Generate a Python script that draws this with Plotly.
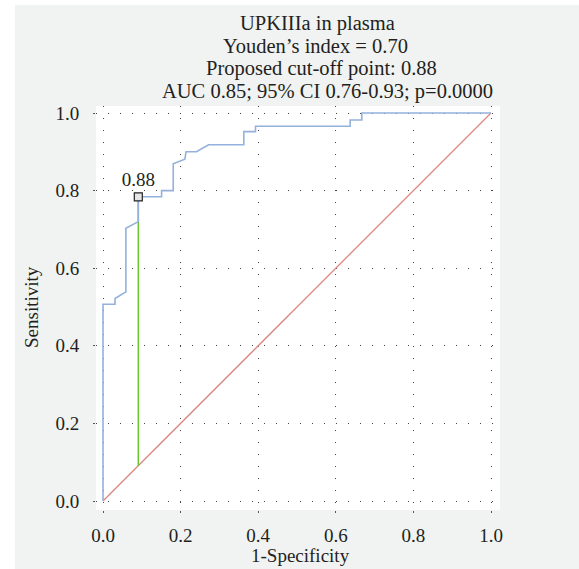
import plotly.graph_objects as go

# ---- data ----
fpr = [0.0, 0.0, 0.031, 0.031, 0.059, 0.059, 0.091, 0.091, 0.151, 0.151, 0.181, 0.181,
       0.211, 0.214, 0.241, 0.272, 0.363, 0.363, 0.393, 0.393, 0.637, 0.637, 0.667, 0.667, 1.0]
tpr = [0.0, 0.507, 0.507, 0.522, 0.539, 0.703, 0.720, 0.784, 0.784, 0.800, 0.800, 0.869,
       0.881, 0.900, 0.900, 0.918, 0.918, 0.952, 0.952, 0.966, 0.966, 0.982, 0.982, 1.0, 1.0]
chance_x = [0.0, 1.0]
chance_y = [0.0, 1.0]
cutoff_x = 0.091
cutoff_y = 0.784
cutoff_label = "0.88"
title_lines = [
    "UPKIIIa in plasma",
    "Youden\u2019s index = 0.70",
    "Proposed cut-off point: 0.88",
    "AUC 0.85; 95% CI 0.76-0.93; p=0.0000",
]
tick_vals = [0.0, 0.2, 0.4, 0.6, 0.8, 1.0]
tick_text = ["0.0", "0.2", "0.4", "0.6", "0.8", "1.0"]
x_title = "1-Specificity"
y_title = "Sensitivity"

W, H = 579, 569
L, R, T, B = 96, 79, 106, 59
PW, PH = W - L - R, H - T - B
FONT = "Liberation Serif"
FS = 19
FS_TITLE = 20.5
TXT = "#231f20"
BG = "#f1f3f2"
title_centers = [317, 315, 321, 327]


def px_x(p):
    return (p - L) / PW


def px_y(p):
    return (H - B - p) / PH


fig = go.Figure()
fig.add_trace(go.Scatter(x=chance_x, y=chance_y, mode="lines",
                         line=dict(color="#e0857f", width=1.3), hoverinfo="skip"))
fig.add_trace(go.Scatter(x=[cutoff_x, cutoff_x], y=[cutoff_x, cutoff_y], mode="lines",
                         line=dict(color="#66c72e", width=1.5), hoverinfo="skip"))
fig.add_trace(go.Scatter(x=fpr, y=tpr, mode="lines",
                         line=dict(color="#93b1db", width=1.6)))
fig.add_trace(go.Scatter(x=[cutoff_x], y=[cutoff_y], mode="markers+text",
                         marker=dict(symbol="square", size=8, color="#e6e6e6",
                                     line=dict(color="#222", width=1.2)),
                         text=[cutoff_label], textposition="top center",
                         textfont=dict(family=FONT, size=FS, color=TXT)))

axis_common = dict(
    tickvals=tick_vals, ticktext=tick_text,
    showgrid=True, gridcolor="#444", gridwidth=1, griddash="1px,11px",
    zeroline=False, showline=False,
    ticks="outside", ticklen=2, tickcolor="#555",
    tickfont=dict(family=FONT, size=FS, color=TXT),
)
fig.update_xaxes(range=[-7 / 388, 1 + 9 / 388], ticklabelstandoff=6, **axis_common)
fig.update_yaxes(range=[-9 / 388, 1 + 7 / 388], ticklabelstandoff=10, **axis_common)

annotations = []
for i, line in enumerate(title_lines):
    annotations.append(dict(text=line, x=px_x(title_centers[i]), y=px_y(23 + 23 * i),
                            xref="paper", yref="paper",
                            xanchor="center", yanchor="middle", showarrow=False,
                            font=dict(family=FONT, size=FS_TITLE, color=TXT)))
annotations.append(dict(text=x_title, x=px_x(300), y=px_y(555), xref="paper", yref="paper",
                        xanchor="center", yanchor="middle", showarrow=False,
                        font=dict(family=FONT, size=FS, color=TXT)))
annotations.append(dict(text=y_title, x=px_x(31), y=px_y(307), xref="paper", yref="paper",
                        xanchor="center", yanchor="middle", showarrow=False, textangle=-90,
                        font=dict(family=FONT, size=FS, color=TXT)))

shapes = [
    dict(type="rect", xref="paper", yref="paper", x0=px_x(-2), x1=px_x(15), y0=px_y(H + 2), y1=px_y(-2),
         fillcolor="white", line=dict(width=0), layer="above"),
    dict(type="rect", xref="paper", yref="paper", x0=px_x(-2), x1=px_x(W + 2), y0=px_y(5), y1=px_y(-2),
         fillcolor="white", line=dict(width=0), layer="above"),
]

fig.update_layout(
    width=W, height=H,
    margin=dict(l=L, r=R, t=T, b=B),
    paper_bgcolor=BG, plot_bgcolor="white",
    showlegend=False,
    annotations=annotations, shapes=shapes,
)

fig.write_html("out.html", config={"displayModeBar": False},
               post_script="document.body.style.margin='0';document.body.style.overflow='hidden';")
